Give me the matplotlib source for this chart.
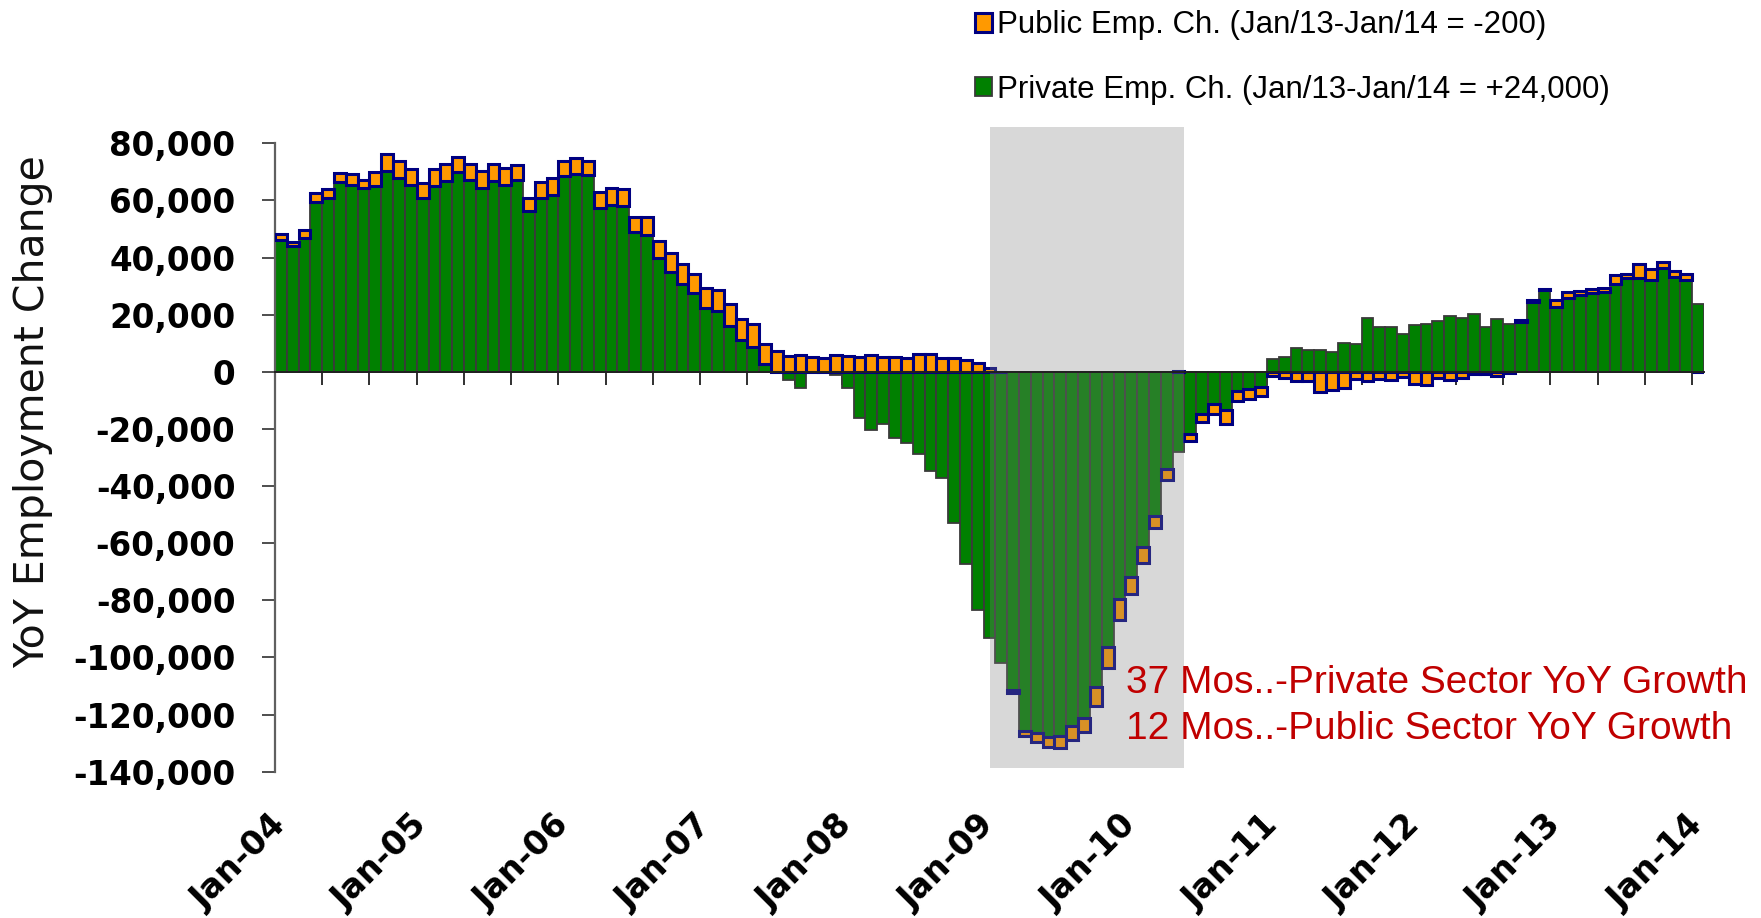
import numpy as np
import pandas as pd
import matplotlib
matplotlib.use("Agg")
import matplotlib.pyplot as plt
from matplotlib.ticker import FuncFormatter

# ---------------- data ----------------
months = pd.date_range("2004-01-01", "2014-01-01", freq="MS")
month_labels = [d.strftime("%b-%y") for d in months]

private_change = [
    46000, 44000, 47000, 59500, 60700, 66500, 65300, 64400, 65100, 70200, 68000, 65300,
    61000, 65000, 66900, 69800, 67100, 64500, 66800, 65300, 67300, 56400, 60900, 61900,
    68500, 69100, 68800, 57500, 58400, 58000, 49000, 47800, 39700, 34800, 30900, 27700,
    22200, 21400, 16000, 11300, 8750, 2700, 0, -2900, -5600, -300, -300, -1200,
    -5800, -16000, -20200, -18300, -23300, -24900, -28800, -34700, -37300, -52900, -67400, -83400,
    -93100, -101900, -111400, -125700, -126300, -127800, -127400, -124100, -121100, -110300, -96300, -79600,
    -72000, -61500, -50400, -34200, -28000, -21600, -14900, -11100, -13400, -6700, -6100, -5300,
    4400, 5300, 8500, 7800, 7800, 6800, 10200, 9900, 19000, 15800, 15800, 13100,
    16300, 16700, 17900, 19500, 18700, 20200, 15700, 18400, 16900, 17500, 24500, 28600,
    22800, 25700, 26800, 27700, 28100, 30900, 32700, 32900, 32300, 36200, 33300, 32300,
    23900,
]
public_change = [
    2300, 1400, 2700, 3100, 3200, 3200, 3900, 2900, 4900, 5900, 5700, 5600,
    5200, 6100, 6000, 5500, 5800, 5900, 6100, 5900, 5100, 4500, 5600, 5800,
    5400, 5600, 4900, 5500, 5800, 6000, 5300, 6500, 6200, 6900, 6700, 6400,
    7000, 7400, 7600, 7300, 8150, 7200, 7200, 5600, 5900, 5300, 5000, 5900,
    5600, 5300, 5800, 5200, 5200, 5000, 6200, 6400, 4700, 4700, 4300, 3200,
    1500, 0, -900, -1750, -3300, -3700, -4400, -4900, -4900, -6800, -7400, -7400,
    -5800, -5300, -4200, -3700, 200, -2700, -2800, -3700, -4700, -3600, -3300, -3300,
    -1400, -2300, -3300, -3200, -7200, -6400, -5500, -2600, -3300, -2600, -2700, -1800,
    -4300, -4700, -2300, -2900, -2000, -600, -900, -1400, -500, 700, 800, 500,
    2300, 2100, 1400, 1200, 1300, 2900, 1400, 4700, 3600, 2200, 1900, 2100,
    -200,
]
public_label = "Public Emp. Ch. (Jan/13-Jan/14 = -200)"
private_label = "Private Emp. Ch. (Jan/13-Jan/14 = +24,000)"
note_lines = ["37 Mos..-Private Sector YoY Growth", "12 Mos..-Public Sector YoY Growth"]
y_label = "YoY Employment Change"
shade_start_idx = 60     # Jan-09
shade_end_idx = 76.5     # mid 2010
y_ticks = list(range(-140000, 80001, 20000))

# ---------------- figure ----------------
W, H = 1761, 918
fig = plt.figure(figsize=(W / 100, H / 100), dpi=100)
ax_left, ax_right, ax_top, ax_bot = 275, 1704, 143.3, 771.7
ax = fig.add_axes([ax_left / W, 1 - ax_bot / H, (ax_right - ax_left) / W, (ax_bot - ax_top) / H])

priv = np.array(private_change, dtype=float)
pub = np.array(public_change, dtype=float)
x = np.arange(len(priv))
pub_bottom = np.where(np.sign(pub) == np.sign(priv), priv, 0.0)

priv_bars = ax.bar(x, priv, width=1.0, color="#008000", edgecolor="#3a3a3a",
                   linewidth=1.3, zorder=2)
pub_bars = ax.bar(x, pub, bottom=pub_bottom, width=1.0, color="#ff9900",
                  edgecolor="#000080", linewidth=2.2, zorder=3)

# shaded period drawn over the bars
ax.axvspan(shade_start_idx, shade_end_idx, ymin=(ax_bot - 767.7) / (ax_bot - ax_top),
           ymax=1 + (ax_top - 127) / (ax_bot - ax_top), color="#808080", alpha=0.3,
           lw=0, zorder=4, clip_on=False)

ax.set_xlim(-0.5, len(x) - 0.5)
ax.set_ylim(-140000, 80000)

for s in ["top", "right"]:
    ax.spines[s].set_visible(False)
ax.spines["bottom"].set_position(("data", 0))
ax.spines["bottom"].set_color("#202020")
ax.spines["bottom"].set_linewidth(1.4)
ax.spines["bottom"].set_zorder(5)
ax.spines["left"].set_color("#606060")
ax.spines["left"].set_linewidth(1.6)

ax.set_yticks(y_ticks)
ax.yaxis.set_major_formatter(FuncFormatter(lambda v, p: f"{int(v):,}"))
ax.tick_params(axis="y", direction="out", length=9.5, width=1.3, color="#404040", pad=19)
for lab in ax.get_yticklabels():
    lab.set_fontfamily("DejaVu Sans")
    lab.set_fontweight("bold")
    lab.set_fontsize(23.5)

ax.set_xticks(np.arange(-0.5, len(x), 4))
ax.set_xticklabels([])
ax.tick_params(axis="x", direction="out", length=9.5, width=1.3, color="#202020")

sec = ax.secondary_xaxis(0.0)
sec.spines["bottom"].set_visible(False)
sec.set_xticks(x[::12])
sec.set_xticklabels([month_labels[i] for i in x[::12]])
sec.tick_params(axis="x", length=0, pad=35)
for lab in sec.get_xticklabels():
    lab.set_rotation(45)
    lab.set_ha("right")
    lab.set_va("center")
    lab.set_rotation_mode("anchor")
    lab.set_fontfamily("DejaVu Sans")
    lab.set_fontweight("bold")
    lab.set_fontsize(24)

fig.text(33 / W, 1 - 412 / H, y_label, rotation=90, ha="center", va="center",
         fontsize=29.5, family="DejaVu Sans", color="#111111")

fig.legend(handles=[pub_bars, priv_bars], labels=[public_label, private_label],
           loc="upper left", bbox_to_anchor=(975 / W, 1 - 10.5 / H), frameon=False,
           prop={"family": "Liberation Sans", "size": 22.5},
           handlelength=0.55, handleheight=0.55, handletextpad=0.15,
           labelspacing=1.1, borderpad=0, borderaxespad=0)

for i, line in enumerate(note_lines):
    fig.text(1126 / W, 1 - (683 + 46 * i) / H, line, color="#c00000", ha="left",
             va="center", family="Liberation Sans", fontsize=28)

fig.savefig("out.png", dpi=100)
